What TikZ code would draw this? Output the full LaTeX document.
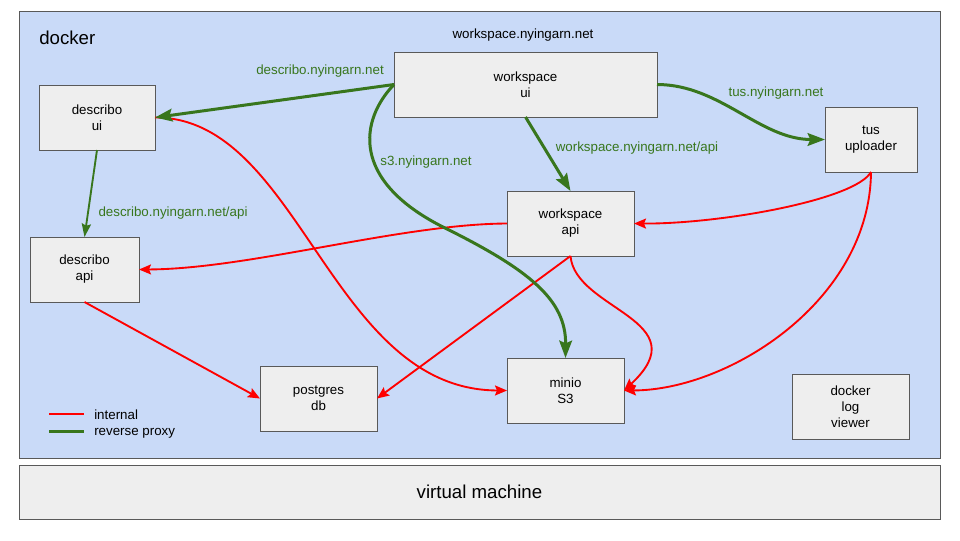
\documentclass[tikz,border=0pt]{standalone}
\usepackage{fontspec}
\setmainfont{Liberation Sans}
\usetikzlibrary{arrows.meta}
\definecolor{dockerblue}{HTML}{C9DAF8}
\definecolor{boxgray}{HTML}{EEEEEE}
\definecolor{edgegray}{HTML}{595959}
\definecolor{proxygreen}{HTML}{38761D}
\definecolor{intred}{HTML}{FF0000}
\tikzset{
  box/.style={draw=edgegray, fill=boxgray, line width=0.75pt, inner sep=0pt, outer sep=0pt,
    align=center, font=\fontsize{10}{12}\selectfont, text=black, minimum height=48.75pt},
  internal/.style={draw=intred, line width=1.4pt, -{Stealth[length=9pt,width=7.5pt,inset=1.5pt]}},
  proxy/.style={draw=proxygreen, line width=2.25pt, -{Stealth[length=13pt,width=9.5pt,inset=2pt]}},
  proxythin/.style={draw=proxygreen, line width=1.4pt, -{Stealth[length=10pt,width=7pt,inset=1.5pt]}},
  lbl/.style={text=proxygreen, font=\fontsize{10}{12}\selectfont, inner sep=0pt},
  plain/.style={text=black, font=\fontsize{10}{12}\selectfont, inner sep=0pt},
  big/.style={text=black, font=\fontsize{14}{17}\selectfont, inner sep=0pt}
}
\begin{document}
\begin{tikzpicture}[x=0.75pt,y=-0.75pt]
\fill[white] (0,0) rectangle (960,540);
\useasboundingbox (0,0) rectangle (960,540);

% containers
\node[box, fill=dockerblue, minimum width=690.75pt, minimum height=335.25pt] (docker) at (479.5,234.5) {};
\node[box, minimum width=690.75pt, minimum height=40.5pt, font=\fontsize{14}{17}\selectfont] (vm) at (479.5,492) {virtual machine};
\node[big, anchor=west] (dockerlbl) at (39,38) {docker};
\node[plain] (wsdomain) at (523,35) {workspace.nyingarn.net};

% services
\node[box, minimum width=197.25pt] (wsui) at (525.5,84.5) {workspace\\ui};
\node[box, minimum width=87pt] (dui) at (97,117.5) {describo\\ui};
\node[box, minimum width=81.75pt] (dapi) at (84.5,269.5) {describo\\api};
\node[box, minimum width=69pt] (tus) at (871,139.5) {tus\\uploader};
\node[box, minimum width=95.25pt] (wsapi) at (570.5,223.5) {workspace\\api};
\node[box, minimum width=87.75pt] (pg) at (318.5,398.5) {postgres\\db};
\node[box, minimum width=87.75pt] (minio) at (565.5,390.5) {minio\\S3};
\node[box, minimum width=87.75pt] (logv) at (850.5,406.5) {docker\\log\\viewer};

% internal connections
\draw[internal] (dui.east) .. controls (300,117) and (330,390) .. (minio.west);
\draw[internal] (wsapi.west) .. controls (400,224) and (250,269) .. (dapi.east);
\draw[internal] (tus.south) .. controls (855,200) and (720,224) .. (wsapi.east);
\draw[internal] (tus.south) .. controls (870,300) and (730,390) .. (minio.east);
\draw[internal] (wsapi.south) .. controls (575,310) and (700,320) .. (minio.east);
\draw[internal] (wsapi.south) -- (pg.east);
\draw[internal] (dapi.south) -- (pg.west);

% reverse proxy connections
\draw[proxy] (wsui.west) -- (dui.east);
\draw[proxy] (wsui.west) .. controls (360,120) and (350,180) .. (443,227)
  .. controls (530,270) and (566,300) .. (minio.north);
\draw[proxy] (wsui.east) .. controls (720,84.5) and (760,139.5) .. (tus.west);
\draw[proxy] (wsui.south) -- (wsapi.north);
\draw[proxythin] (dui.south) -- (dapi.north);

% labels
\node[lbl] (l1) at (320,71) {describo.nyingarn.net};
\node[lbl] (l2) at (426,162) {s3.nyingarn.net};
\node[lbl] (l3) at (776,93) {tus.nyingarn.net};
\node[lbl] (l4) at (637,148) {workspace.nyingarn.net/api};
\node[lbl] (l5) at (173,213) {describo.nyingarn.net/api};

% legend
\coordinate (lra) at (49,414.3);
\coordinate (lrb) at (84,414.3);
\coordinate (lga) at (49,431.7);
\coordinate (lgb) at (84,431.7);
\draw[draw=intred, line width=1.4pt] (lra) -- (lrb);
\draw[draw=proxygreen, line width=2.25pt] (lga) -- (lgb);
\node[plain, anchor=west] (legint) at (94,414.3) {internal};
\node[plain, anchor=west] (legprox) at (94,433) {reverse proxy};
\end{tikzpicture}
\end{document}
